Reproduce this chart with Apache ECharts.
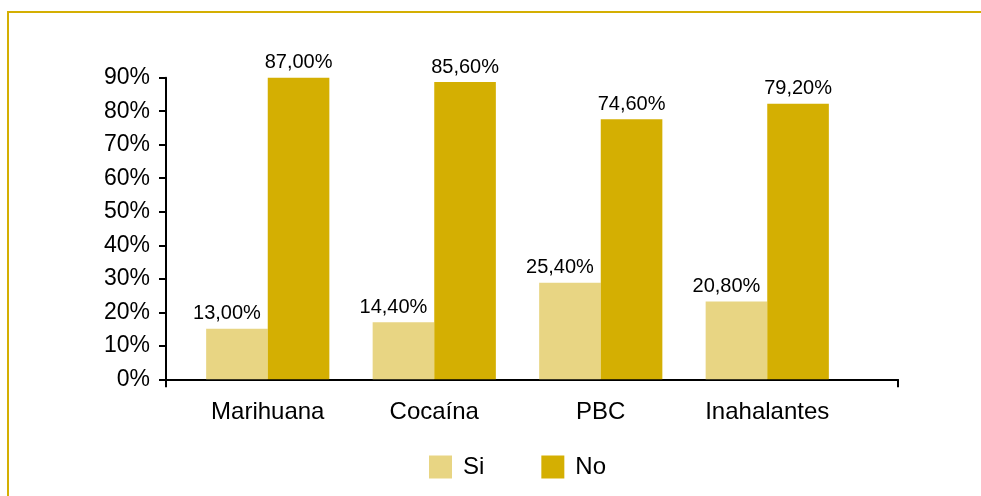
<!DOCTYPE html>
<html>
<head>
<meta charset="utf-8">
<script src="https://cdn.jsdelivr.net/npm/echarts@6/dist/echarts.min.js"></script>
<style>
html,body{margin:0;padding:0;background:#fff;}
#c{width:981px;height:496px;}
</style>
</head>
<body>
<div id="c"></div>
<script>
const categories = ['Marihuana', 'Cocaína', 'PBC', 'Inahalantes'];
const seriesNames = ['Si', 'No'];
// printed value labels
const siLabels = [13.00, 14.40, 25.40, 20.80];
const noLabels = [87.00, 85.60, 74.60, 79.20];
// bar heights as drawn in the reference (% on the axis)
const siBars = [15.1, 17.0, 28.8, 23.2];
const noBars = [90.0, 88.7, 77.6, 82.2];
const yTicks = [0, 10, 20, 30, 40, 50, 60, 70, 80, 90];

const FONT = '"Liberation Sans", Arial, sans-serif';
const fmt = v => v.toFixed(2).replace('.', ',') + '%';

const chart = echarts.init(document.getElementById('c'));
chart.setOption({
  animation: false,
  backgroundColor: '#fff',
  textStyle: { fontFamily: FONT },
  graphic: [{
    type: 'rect',
    shape: { x: 8, y: 12, width: 1100, height: 600 },
    style: { fill: 'none', stroke: '#D4AF02', lineWidth: 2 },
    z: 100
  }],
  legend: {
    data: seriesNames,
    left: 424, top: 450,
    itemWidth: 23, itemHeight: 23, itemGap: 57,
    icon: 'rect',
    textStyle: { fontSize: 24, color: '#000', fontFamily: FONT, padding: [0, 0, 0, 6] }
  },
  grid: [
    { left: 184.5, right: 130.5, top: 77.7, bottom: 116.7 },
    { left: 166, right: 83, top: 77.7, bottom: 116.7 }
  ],
  xAxis: [
    {
      type: 'category', gridIndex: 0, data: categories,
      axisLine: { show: false }, axisTick: { show: false },
      axisLabel: { fontSize: 24, color: '#000', fontFamily: FONT, margin: 21 }
    },
    {
      type: 'value', gridIndex: 1, min: 0, max: 1, interval: 1,
      axisLine: { show: true, lineStyle: { color: '#000', width: 2 } },
      axisTick: { show: true, length: 8, lineStyle: { color: '#000', width: 2 } },
      axisLabel: { show: false }, splitLine: { show: false }
    }
  ],
  yAxis: [
    { type: 'value', gridIndex: 0, min: 0, max: 90, show: false, splitLine: { show: false } },
    {
      type: 'value', gridIndex: 1, min: 0, max: 90, interval: 10,
      axisLine: { show: true, lineStyle: { color: '#000', width: 2 } },
      axisTick: { show: true, length: 7, lineStyle: { color: '#000', width: 2 } },
      axisLabel: { formatter: v => yTicks.includes(v) ? v + '%' : '', fontSize: 23, color: '#000', fontFamily: FONT, margin: 16 },
      splitLine: { show: false }
    }
  ],
  series: [
    {
      name: seriesNames[0], type: 'bar', xAxisIndex: 0, yAxisIndex: 0,
      data: siBars, barGap: '0%', barCategoryGap: '26%',
      itemStyle: { color: '#E8D583' },
      label: { show: true, position: 'top', distance: 5, offset: [-10, 0], fontSize: 20, color: '#000', fontFamily: FONT,
        formatter: p => fmt(siLabels[p.dataIndex]) }
    },
    {
      name: seriesNames[1], type: 'bar', xAxisIndex: 0, yAxisIndex: 0,
      data: noBars, barGap: '0%', barCategoryGap: '26%',
      itemStyle: { color: '#D4AF02' },
      label: { show: true, position: 'top', distance: 5, fontSize: 20, color: '#000', fontFamily: FONT,
        formatter: p => fmt(noLabels[p.dataIndex]) }
    }
  ]
});
</script>
</body>
</html>
